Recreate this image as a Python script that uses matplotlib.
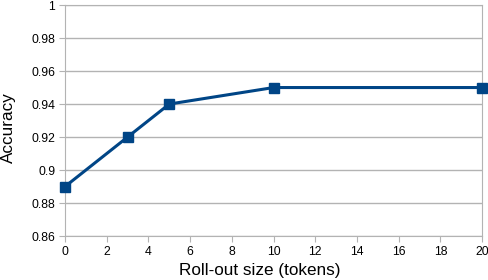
import matplotlib.pyplot as plt

rollout = [0, 3, 5, 10, 20]
accuracy = [0.89, 0.92, 0.94, 0.95, 0.95]
x_ticks = [0, 2, 4, 6, 8, 10, 12, 14, 16, 18, 20]
y_ticks = [0.86, 0.88, 0.9, 0.92, 0.94, 0.96, 0.98, 1]
y_labels = ["0.86", "0.88", "0.9", "0.92", "0.94", "0.96", "0.98", "1"]

plt.rcParams["font.family"] = ["Liberation Sans", "DejaVu Sans"]

fig = plt.figure(figsize=(4.89, 2.80), dpi=100)
ax = fig.add_axes([0.133, 0.157, 0.853, 0.825])

ax.plot(rollout, accuracy, color="#004586", linewidth=2.2, marker="s",
        markersize=6.5, zorder=3, clip_on=False)

ax.set_xlim(0, 20)
ax.set_ylim(0.86, 1)
ax.set_xticks(x_ticks)
ax.set_yticks(y_ticks)
ax.set_yticklabels(y_labels)
ax.grid(axis="y", color="#b3b3b3", linewidth=1)
for s in ax.spines.values():
    s.set_color("#b3b3b3")
ax.tick_params(color="#b3b3b3", length=4, labelsize=8.8, pad=3)

ax.set_xlabel("Roll-out size (tokens)", fontsize=12.3)
ax.set_ylabel("Accuracy", fontsize=12.3)
ax.xaxis.set_label_coords(0.468, -0.115)
ax.yaxis.set_label_coords(-0.118, 0.468)

fig.savefig("out.png", dpi=100)
